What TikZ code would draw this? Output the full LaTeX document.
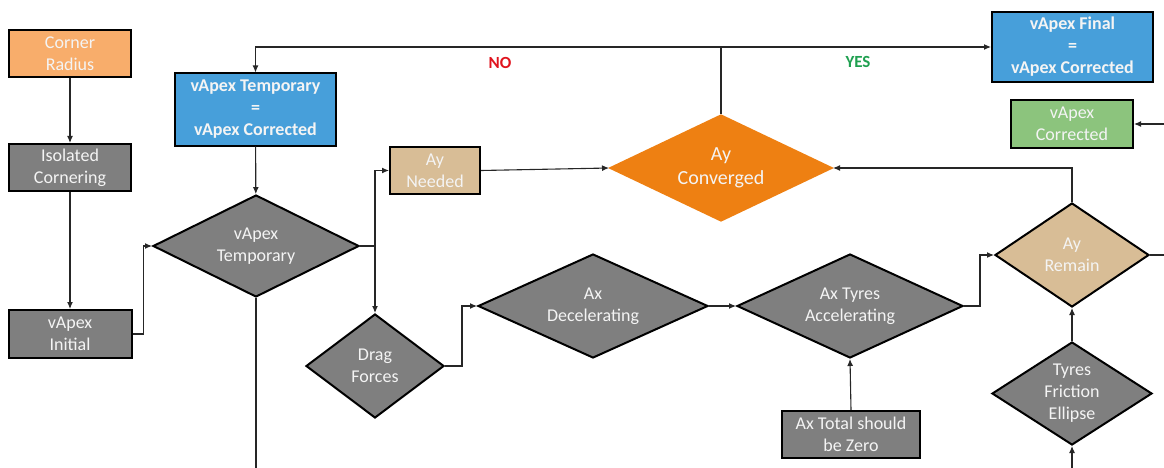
\documentclass[tikz,border=0pt]{standalone}
\usepackage{fontspec}
\setmainfont{Carlito}
\usetikzlibrary{shapes.geometric,arrows.meta}
\definecolor{cOrangeLight}{HTML}{F8AD6B}
\definecolor{cGray}{HTML}{7F7F7F}
\definecolor{cBlue}{HTML}{479FDA}
\definecolor{cTan}{HTML}{D8BD96}
\definecolor{cOrange}{HTML}{EE8012}
\definecolor{cGreen}{HTML}{8CC47D}
\definecolor{cText}{HTML}{F4F4F4}
\definecolor{cNo}{HTML}{E0141E}
\definecolor{cYes}{HTML}{1FA050}
\begin{document}
\begin{tikzpicture}[x=1pt,y=-1pt,
  txt/.style={text=cText,font=\fontsize{18}{22}\selectfont,align=center},
  box/.style={txt,draw=black,line width=2pt,rectangle,inner sep=0pt},
  bluebox/.style={box,fill=cBlue,font=\fontsize{18}{22}\selectfont\bfseries},
  dia/.style={txt,draw=black,line width=2pt,diamond,inner sep=0pt},
  arr/.style={draw=black!85,line width=1.1pt,-{Latex[length=7pt,width=6pt]}},
  ln/.style={draw=black!85,line width=1.1pt},
  lbl/.style={font=\fontsize{17}{20}\selectfont\bfseries}]
\useasboundingbox (0,0) rectangle (1164,468);

% rectangular blocks
\node[box,fill=cOrangeLight,minimum width=122pt,minimum height=47pt] (cr) at (70,53.5) {Corner\\Radius};
\node[box,fill=cGray,minimum width=122pt,minimum height=47pt] (ic) at (70,167.5) {Isolated\\Cornering};
\node[box,fill=cGray,minimum width=123pt,minimum height=48pt] (vi) at (70,334) {vApex\\Initial};
\node[bluebox,minimum width=161pt,minimum height=72pt] (vt) at (255.5,109.5) {vApex Temporary\\=\\vApex Corrected};
\node[bluebox,minimum width=161pt,minimum height=70pt] (vf) at (1072.5,47) {vApex Final\\=\\vApex Corrected};
\node[box,fill=cGreen,minimum width=122pt,minimum height=48pt] (vc) at (1072,124) {vApex\\Corrected};
\node[box,fill=cTan,minimum width=90pt,minimum height=47pt] (an) at (435,170.5) {Ay\\Needed};
\node[box,fill=cGray,minimum width=138pt,minimum height=47pt] (axz) at (851,434.5) {Ax Total should\\be Zero};

% decision diamonds
\node[dia,draw=cOrange,fill=cOrange,aspect=2.09,minimum width=222pt,minimum height=106pt,
      font=\fontsize{20}{24}\selectfont] (ac) at (721,168) {Ay\\Converged};
\node[dia,fill=cGray,aspect=2.02,minimum width=206pt,minimum height=102pt] (vtd) at (256,246) {vApex\\Temporary};
\node[dia,fill=cGray,aspect=1.33,minimum width=138pt,minimum height=104pt] (df) at (375,366) {Drag\\Forces};
\node[dia,fill=cGray,aspect=2.2,minimum width=230pt,minimum height=104pt] (axd) at (593,306) {Ax\\Decelerating};
\node[dia,fill=cGray,aspect=2.17,minimum width=226pt,minimum height=104pt] (axt) at (850,306) {Ax Tyres\\Accelerating};
\node[dia,fill=cTan,aspect=1.48,minimum width=154pt,minimum height=104pt] (ar) at (1072,255) {Ay\\Remain};
\node[dia,fill=cGray,aspect=1.55,minimum width=160pt,minimum height=103pt] (tfe) at (1072,393.5) {Tyres\\Friction\\Ellipse};

% loose ends at the border
\coordinate (rin) at (1164,124);
\coordinate (rout) at (1164,255);
\coordinate (bot1) at (256,468);
\coordinate (bot2) at (1072,468);

% connectors
\draw[arr] (cr) -- (ic);
\draw[arr] (ic) -- (vi);
\draw[arr] (vi.east) -- ++(11,0) |- (vtd.west);
\draw[arr] (vt) -- (vtd);
\draw[arr] (vtd.east) -| (df.north);
\draw[arr] (vtd.east -| df.north) |- (an.west);
\draw[arr] (an.east) -- (ac.west);
\draw[arr] (df.east) -- ++(17,0) |- (axd.west);
\draw[arr] (axd.east) -- (axt.west);
\draw[arr] (axz.north) -- (axt.south);
\draw[arr] (axt.east) -- ++(16,0) |- (ar.west);
\draw[arr] (tfe.north) -- (ar.south);
\draw[arr] (ar.north) |- (ac.east);
\draw[arr] (ac.north) |- (vf.west);
\draw[arr] (ac.north |- vf.west) -| (vt.north);
\draw[arr] (rin) -- (vc.east);
\draw[ln] (ar.east) -- (rout);
\draw[ln] (vtd.south) -- (bot1);
\draw[arr] (bot2) -- (tfe.south);

% branch labels
\node[lbl,text=cNo] (no) at (500,63) {NO};
\node[lbl,text=cYes] (yes) at (858,62) {YES};
\end{tikzpicture}
\end{document}
